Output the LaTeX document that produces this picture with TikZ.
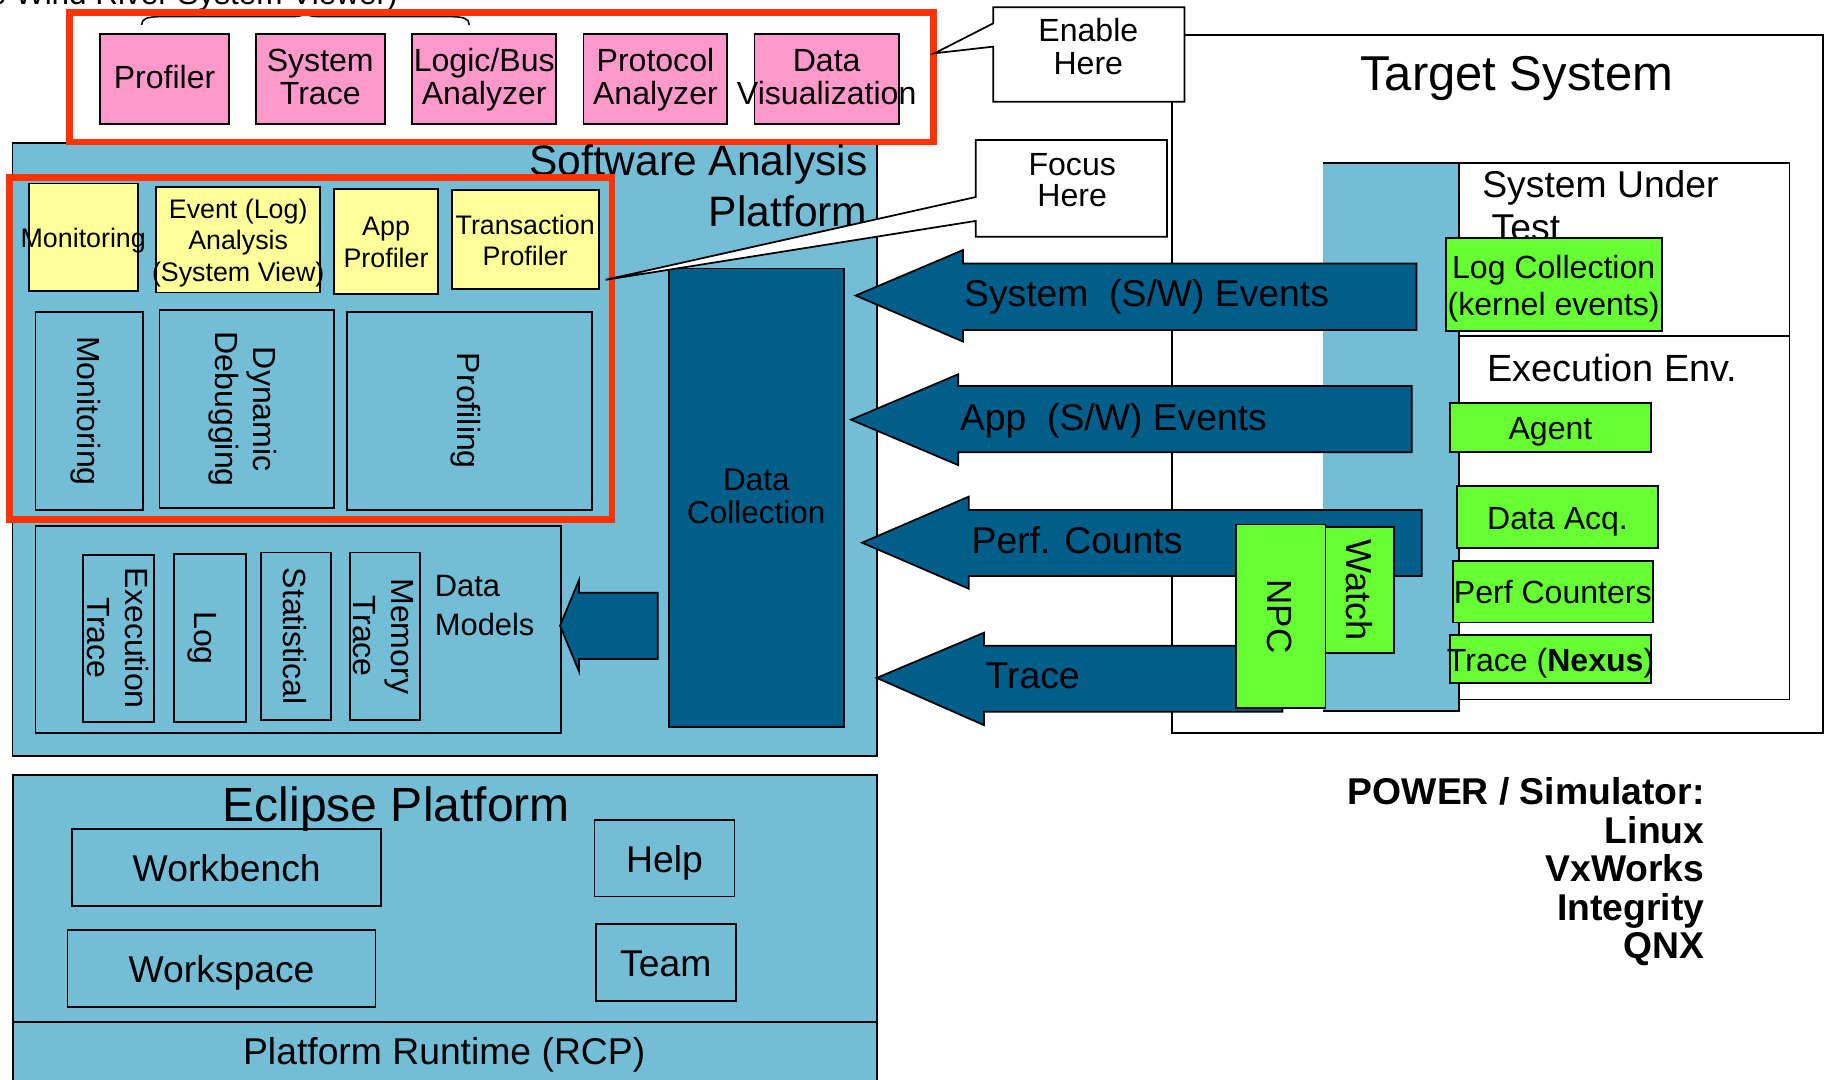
\documentclass[tikz,border=0pt]{standalone}
\usepackage{fontspec}
\setmainfont{Liberation Sans}
\definecolor{lblue}{RGB}{116,189,214}
\definecolor{dblue}{RGB}{0,94,138}
\definecolor{mypink}{RGB}{255,153,204}
\definecolor{lyellow}{RGB}{255,255,153}
\definecolor{lgreen}{RGB}{102,255,51}
\definecolor{redo}{RGB}{255,51,0}
% box with no text
\newcommand\bbox[6]{\node[#6,minimum width={#4-#2},minimum height={#5-#3}] (#1) at ({(#2+#4)/2},{(#3+#5)/2}) {};}
% box with its text (text node named <name>-t, shifted down by #8)
\newcommand\tbox[9]{\node[#6,minimum width={#4-#2},minimum height={#5-#3}] (#1) at ({(#2+#4)/2},{(#3+#5)/2}) {};
  \node[#7] (#1-t) at ({(#2+#4)/2},{(#3+#5)/2+#8}) {#9};}
\newcommand\ov[1]{\makebox[0pt]{#1}}
\newcommand\fs[2]{\fontsize{#1}{#2}\selectfont}
\newcommand\sth{\rule{0pt}{0.97em}}
\newcommand\std{\rule[-0.21em]{0pt}{0.21em}}
\newcommand\st{\sth\std}
\begin{document}
\begin{tikzpicture}[x=1pt,y=-1pt,
  every node/.style={inner sep=0pt,outer sep=0pt},
  ln/.style={draw=black,line width=1.5pt},
  redbox/.style={draw=redo,line width=6pt},
  pinkbox/.style={ln,fill=mypink},
  pinktxt/.style={align=center,font=\fs{27.5}{28.5}},
  ybox/.style={ln,fill=lyellow},
  ytxt/.style={align=center,font=\fs{23}{27.15}},
  bbx/.style={ln,fill=lblue},
  gbox/.style={ln,fill=lgreen},
  gtxt/.style={align=center,font=\fs{27.5}{31.5}},
  vtxt/.style={rotate=-90,align=center,font=\fs{27.5}{33}},
  barrow/.style={draw=black,line width=1.5pt,fill=dblue},
  atxt/.style={anchor=west,font=\fs{32}{32}},
  callout/.style={draw=black,line width=1.5pt,fill=white},
  wbox/.style={ln,fill=white},
  etxt/.style={font=\fs{32}{32}},
]
\useasboundingbox (0,0) rectangle (1568,926);

% caption at the top
\node[anchor=base east,font=\fs{27}{27}] (viewer) at (341,4) {e Wind River System Viewer)};
\draw[line width=1.3pt] (121.5,21.4) .. controls (121.5,16) and (126,14.3) .. (138,14.3) -- (252,14.3)
  .. controls (258,14.3) and (261,12.5) .. (262,10.5) .. controls (263,12.5) and (266,14.3) .. (272,14.3)
  -- (386,14.3) .. controls (398,14.3) and (402.5,16) .. (402.5,21.4);

% target system
\bbox{target}{1005}{30}{1563.5}{628.5}{wbox}
\node[font=\fs{42}{42}] (targettitle) at (1301,61.8) {\st Target System};
\bbox{strip}{1135}{139.5}{1251.5}{609.6}{fill=lblue}
\draw[line width=1.5pt] (strip.north west) -- (strip.north east) -- (strip.south east) -- (strip.south west);
\bbox{sut}{1251.5}{139.5}{1535}{288}{wbox}
\bbox{exec}{1251.5}{288}{1535}{600}{wbox}
\node[anchor=west,align=left,font=\fs{32}{37}] (suttext) at (1271.5,175.7) {\sth System Under\\\std\hspace*{8pt}Test};
\node[anchor=west,font=\fs{32.5}{32}] (exectext) at (1276,315.2) {\st Execution Env.};

% software analysis platform
\bbox{sap}{10.8}{122.5}{752.5}{648.5}{bbx}

% eclipse platform
\bbox{eclipse}{11}{665}{752}{940}{bbx}
\draw[line width=1.5pt] (11,876.4) -- (752,876.4);
\node[etxt] (rcp) at (381,901.3) {\st Platform Runtime (RCP)};
\tbox{workbench}{62}{711}{327}{777}{bbx}{etxt}{0}{\st Workbench}
\tbox{workspace}{58}{797.7}{322}{864}{bbx}{etxt}{0}{\st Workspace}
\tbox{help}{510}{703.6}{630}{769}{bbx}{etxt}{0}{\st Help}
\tbox{team}{511}{792.6}{631}{858.7}{bbx}{etxt}{0}{\st Team}
\node[font=\fs{41.2}{41}] (eclipsetitle) at (340,689.2) {\st Eclipse Platform};

% top (enable) zone
\tbox{profiler}{85.8}{29.2}{196.5}{106.4}{pinkbox}{pinktxt}{-2.5}{\st Profiler}
\tbox{systrace}{219.4}{29.2}{330}{106.4}{pinkbox}{pinktxt}{-2.5}{\sth System\\\std Trace}
\tbox{logicbus}{353.5}{29.2}{477.2}{106.4}{pinkbox}{pinktxt}{-2.5}{\sth Logic/Bus\\\std Analyzer}
\tbox{protocol}{500.6}{29.2}{623.8}{106.4}{pinkbox}{pinktxt}{-2.5}{\sth Protocol\\\std Analyzer}
\tbox{datavis}{647.2}{29.2}{771}{106.4}{pinkbox}{pinktxt}{-2.5}{\sth\ov{Data}\\\std\ov{Visualization}}
\bbox{enablezone}{59.5}{10.3}{801}{121.8}{redbox}
\draw[callout] (852,6.3) -- (1016,6.3) -- (1016,87.2) -- (852,87.2) -- (852,40) -- (801.6,45.7) -- (852,20) -- cycle;
\node[align=center,font=\fs{27.5}{27.8}] (enable) at (933.5,39.3) {\sth Enable\\\std Here};

\node[anchor=east,align=right,font=\fs{36.5}{44}] (saptitle) at (744,158.5) {\sth Software Analysis\\\std Platform};

% focus zone
\tbox{ymon}{24.6}{157.3}{118.2}{249.3}{ybox}{ytxt}{0}{\st\ov{Monitoring}}
\tbox{yevent}{133.9}{160.1}{274.7}{251}{ybox}{ytxt}{0}{\sth Event (Log)\\Analysis\\\std\ov{(System View)}}
\tbox{yapp}{286.6}{161.8}{375.7}{252.5}{ybox}{ytxt}{0}{\sth App\\\std Profiler}
\tbox{ytrans}{387.5}{163}{513.5}{248.2}{ybox}{ytxt}{0}{\sth Transaction\\\std Profiler}
\bbox{vmon}{30.5}{267.4}{122.6}{437.5}{bbx}
\bbox{vdyn}{136.9}{266}{286.6}{436}{bbx}
\bbox{vprof}{297.9}{267.4}{508.1}{437.5}{bbx}
\node[vtxt] (vmon-t) at (vmon.center) {\st Monitoring};
\node[vtxt] (vdyn-t) at (vdyn.center) {\sth Dynamic\\\std Debugging};
\node[vtxt] (vprof-t) at (vprof.center) {\st Profiling};
\bbox{focuszone}{7.9}{152}{525}{445.5}{draw=redo,line width=5.7pt}

% data models
\bbox{dmodels}{30.5}{451.2}{481.5}{628.5}{bbx}
\bbox{dexec}{71.4}{476}{132}{619}{bbx}
\bbox{dlog}{149.2}{475.5}{210.7}{619}{bbx}
\bbox{dstat}{224}{474}{284}{617.6}{bbx}
\bbox{dmem}{299.9}{474}{360.4}{617.6}{bbx}
\node[vtxt] (dexec-t) at (dexec.center) {\sth Execution\\\std Trace};
\node[vtxt] (dlog-t) at ([xshift=-3pt]dlog.center) {\st Log};
\node[vtxt] (dstat-t) at (dstat.center) {\st Statistical};
\node[vtxt] (dmem-t) at (dmem.center) {\sth Memory\\\std Trace};
\node[anchor=west,align=left,font=\fs{26.5}{33}] (dmtext) at (373,518.2) {\sth Data\\\std Models};

% data collection
\tbox{dcoll}{573.6}{230.2}{723.8}{623.3}{ln,fill=dblue}{align=center,font=\fs{27}{28.6}}{-2}{\sth Data\\\std Collection}
\draw[barrow] (564.1,508.4) -- (496.7,508.4) -- (496.7,497.5) -- (480.4,536.7) -- (496.7,576) -- (496.7,565.3) -- (564.1,565.3) -- cycle;

% focus callout
\draw[callout] (837,120) -- (1001,120) -- (1001,203) -- (837,203) -- (837,189.5) -- (519.5,240) -- (837,169) -- cycle;
\node[align=center,font=\fs{27.5}{27.2}] (focus) at (919.7,153.4) {\sth Focus\\\std Here};

% event arrows
\draw[barrow] (1215,226) -- (826,226) -- (826,214.5) -- (734,253.5) -- (826,293) -- (826,283) -- (1215,283) -- cycle;
\draw[barrow] (1211,331) -- (822,331) -- (822,321) -- (730,360) -- (822,399) -- (822,388) -- (1211,388) -- cycle;
\draw[barrow] (1219.5,437.5) -- (831,437.5) -- (831,426) -- (739.5,465.5) -- (831,505) -- (831,494) -- (1219.5,494) -- cycle;
\draw[barrow] (1100,554) -- (844,554) -- (844,542.7) -- (752,581.5) -- (844,622) -- (844,610.5) -- (1100,610.5) -- cycle;
\node[atxt] (sysev) at (827,250.4) {\st System\ \ (S/W) Events};
\node[atxt] (appev) at (823.5,357.2) {\st App\ \ (S/W) Events};
\node[atxt] (perfev) at (833.5,462.5) {\st Perf. Counts};
\node[atxt] (traceev) at (845.5,578.6) {\st Trace};

% green blocks
\bbox{npc}{1060}{450}{1137}{607.5}{gbox}
\bbox{watch}{1137}{451.8}{1196}{560}{gbox}
\node[vtxt,font=\fs{30}{30}] (npc-t) at (npc.center) {\st NPC};
\node[vtxt,font=\fs{31}{30}] (watch-t) at (watch.center) {\st Watch};
\tbox{logcoll}{1240}{204}{1425.4}{284}{gbox}{gtxt}{0}{\sth Log Collection\\\std(kernel events)}
\tbox{agent}{1243.8}{345.4}{1416}{387.4}{gbox}{gtxt}{0}{\st Agent}
\tbox{dataacq}{1250}{417}{1422}{470}{gbox}{gtxt}{0}{\st Data Acq.}
\tbox{perfc}{1246}{481}{1417.8}{534}{gbox}{gtxt}{0}{\st Perf Counters}
\tbox{tracenx}{1244}{544.7}{1416}{586}{gbox}{gtxt}{0}{\st\ov{Trace (\textbf{Nexus})}}

% OS list
\node[anchor=east,align=right,font=\bfseries\fs{32}{32.9}] (os) at (1462,744.1) {\sth POWER / Simulator:\\Linux\\VxWorks\\Integrity\\\std QNX};
\end{tikzpicture}
\end{document}
